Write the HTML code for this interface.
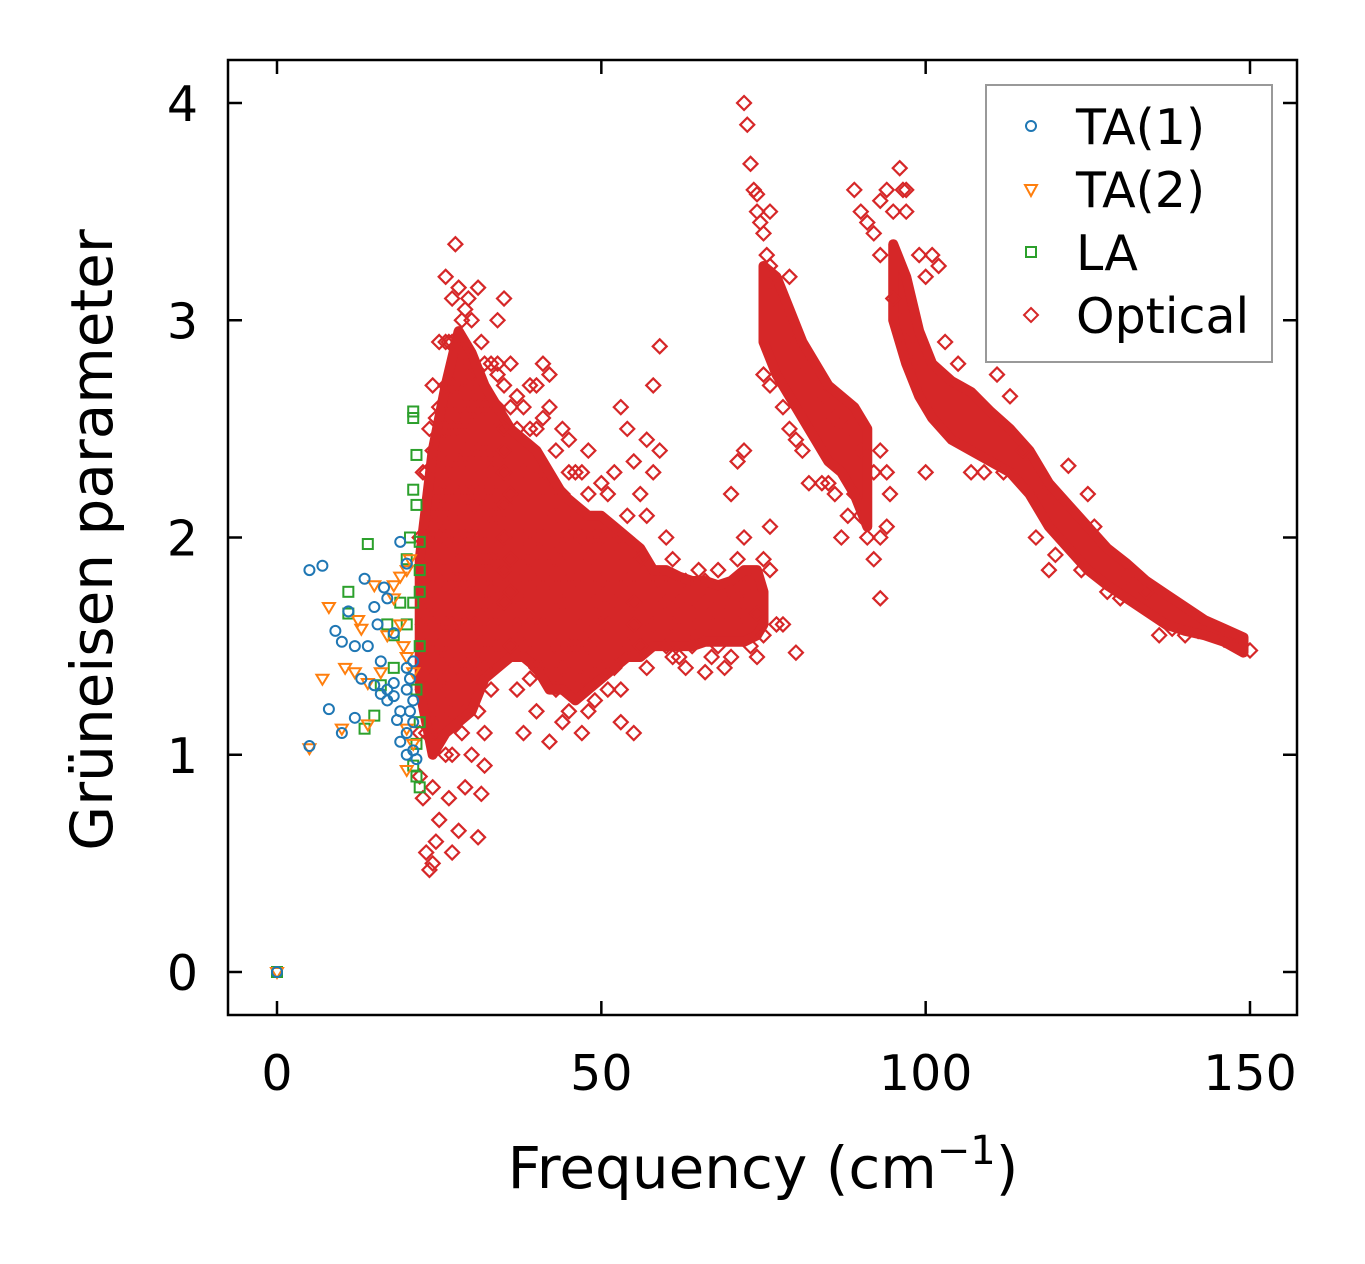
<!DOCTYPE html>
<html><head><meta charset="utf-8"><style>
html,body{margin:0;padding:0;background:#fff;}
svg{display:block;font-family:"DejaVu Sans","Liberation Sans",sans-serif;}
</style></head><body>
<svg id="chart" width="1365" height="1264" viewBox="0 0 1365 1264">
<rect x="0" y="0" width="1365" height="1264" fill="#fff"/>
<g id="plot"></g>
<rect x="228" y="60" width="1069" height="955" fill="none" stroke="#000" stroke-width="2.5"/>
<g id="ticks"></g>
<text x="763" y="1188" font-size="58" text-anchor="middle">Frequency (cm<tspan dy="-24" font-size="40">−1</tspan><tspan dy="24">)</tspan></text>
<text transform="translate(112,540) rotate(-90)" font-size="58" text-anchor="middle">Grüneisen parameter</text>
<g>
<rect x="986" y="85" width="286" height="277" fill="#fff" fill-opacity="0.8" stroke="#999" stroke-width="2"/>
<g><circle cx="1031" cy="126" r="5" fill="none" stroke="#1f77b4" stroke-width="2"/><text x="1076" y="144" font-size="49">TA(1)</text></g>
<g><path d="M1025,185 L1037,185 L1031,196 Z" fill="none" stroke="#ff7f0e" stroke-width="2"/><text x="1076" y="207" font-size="49">TA(2)</text></g>
<g><rect x="1026" y="247" width="10" height="10" fill="none" stroke="#2ca02c" stroke-width="2"/><text x="1076" y="270" font-size="49">LA</text></g>
<g><path d="M1031,308 L1038,315 L1031,322 L1024,315 Z" fill="none" stroke="#d62728" stroke-width="2"/><text x="1076" y="333" font-size="49">Optical</text></g>
</g>
</svg>
<script>
const xTicks=[0,50,100,150];
const yTicks=[0,1,2,3,4];
// dense optical regions (envelopes of heavily overlapping markers)
const coreFreq=[22,24,26,28,30,32,34,36,38,40,42,44,46,48,50,52,54,56,58,60,62,64,66,68,70,72,74,75];
const coreLow=[1.3,1.0,1.1,1.15,1.2,1.35,1.4,1.45,1.45,1.4,1.3,1.3,1.25,1.3,1.35,1.4,1.45,1.45,1.5,1.5,1.5,1.5,1.52,1.52,1.52,1.52,1.55,1.6];
const coreHigh=[1.9,2.4,2.7,2.95,2.85,2.7,2.6,2.5,2.45,2.4,2.3,2.2,2.15,2.1,2.1,2.05,2.0,1.95,1.85,1.85,1.82,1.8,1.8,1.78,1.8,1.85,1.85,1.75];
const branchDFreq=[75,77,79,81,83,85,87,89,91];
const branchDLow=[2.9,2.75,2.65,2.55,2.45,2.35,2.3,2.2,2.05];
const branchDHigh=[3.25,3.2,3.05,2.9,2.8,2.7,2.65,2.6,2.5];
const branchEFreq=[95,97,99,101,104,107,110,113,116,119,122,125,128,131,134,137,140,143,146,149];
const branchELow=[3.0,2.8,2.65,2.55,2.45,2.4,2.35,2.3,2.2,2.05,1.95,1.85,1.78,1.72,1.66,1.6,1.57,1.55,1.52,1.47];
const branchEHigh=[3.35,3.2,2.95,2.8,2.72,2.67,2.58,2.5,2.4,2.25,2.15,2.05,1.95,1.88,1.8,1.74,1.68,1.62,1.58,1.54];
const ta1Points=[[0,0],[5,1.85],[5,1.04],[7,1.87],[8,1.21],[9,1.57],[10,1.52],[10,1.1],[11,1.66],[12,1.5],[12,1.17],[13,1.35],[13.5,1.81],[14,1.5],[15,1.32],[15,1.68],[15.5,1.6],[16,1.43],[16,1.28],[16.5,1.77],[17,1.25],[17,1.72],[18,1.56],[18,1.33],[18.5,1.16],[19,1.98],[19,1.2],[19,1.06],[20,1.4],[20,1.3],[20,1.1],[20,1.0],[20.5,1.35],[21,1.43],[21,1.25],[21,1.02],[21.5,0.98],[20,1.88],[18,1.27],[17,1.3],[20.5,1.2],[21,1.15]];
const ta2Points=[[0,0],[5,1.03],[7,1.35],[8,1.68],[10,1.12],[10.5,1.4],[12,1.38],[12.5,1.62],[13,1.58],[14,1.33],[14,1.14],[15,1.78],[16,1.38],[17,1.55],[18,1.78],[18,1.72],[19,1.6],[19,1.82],[19.5,1.5],[20,1.45],[20,1.85],[20.5,1.9],[20,1.12],[21,1.38],[21,1.05],[20,0.93]];
const laPoints=[[0,0],[11,1.75],[11,1.65],[13.5,1.12],[14,1.97],[15,1.18],[17,1.6],[18,1.55],[19,1.7],[20,1.9],[20.5,2.0],[21,2.58],[21,2.55],[21.5,2.38],[21,2.22],[21.5,2.15],[22,1.98],[22,1.85],[22,1.75],[22,1.5],[21.5,1.3],[22,1.15],[21.5,1.05],[21,0.95],[21.5,0.9],[22,0.85],[21,1.7],[20,1.6],[18,1.4],[16,1.32]];
const opticalA=[[22,0.9],[22.5,0.8],[23,0.55],[23.5,0.47],[24,0.5],[24.5,0.6],[25,0.7],[22,1.1],[22.5,1.3],[23,1.5],[23.5,1.7],[24,1.9],[24.5,2.1],[25,2.3],[25.5,2.5],[26,2.7],[26.5,2.9],[27,3.1],[27.5,3.35],[28,3.15],[28.5,3.0],[29,2.85],[29.5,3.1],[30,3.0],[30.5,2.7],[31,3.15],[26,3.2],[25,2.9],[24,2.4],[23,2.0],[25,1.2],[26,1.0],[26.5,0.8],[27,0.55],[28,0.65],[29,0.85],[30,1.0],[31,0.62],[31.5,0.82],[32,1.1],[27,1.2],[28,1.4],[29,1.2],[30,1.3],[31,1.5],[32,1.7],[33,1.9],[34,2.1],[28,1.8],[29,2.0],[30,2.2],[31,2.4],[32,2.6],[33,2.8],[34,3.0],[35,3.1],[26,1.6],[27,1.8],[28,2.2],[29,2.4],[30,2.6],[27,2.5],[28,2.7],[26,2.2],[25,2.0],[24,1.6],[23,1.3],[24,1.1],[25,1.5],[26,1.9],[27,2.1],[28,2.5],[29,2.7],[30,1.8],[31,2.0],[32,2.2],[33,2.4],[34,2.6],[35,2.5],[31,1.2],[32,1.4],[33,1.6],[34,1.8],[35,2.0],[32,0.95],[33,1.3],[34,1.5],[35,1.7],[29,1.6],[30,1.45],[33,2.1],[33,2.3],[35,2.3],[27,2.9],[28,2.9],[29,3.05],[26,2.5],[25,2.6],[24,2.7],[23,1.8],[22,2.0],[23,2.3],[22.5,1.6],[23,1.1],[24,0.85],[24,1.35],[24.5,2.55],[25,1.8],[25.5,1.35],[25.5,2.1],[26,1.3],[26,2.0],[26.5,2.35],[26.5,1.45],[27,1.6],[27,2.3],[27,1.0],[27.5,2.7],[27.5,1.95],[28,1.6],[28,2.0],[28,2.35],[28.5,2.6],[28.5,1.1],[29,1.8],[29,2.2],[29,2.55],[29.5,1.4],[29.5,2.3],[30,2.0],[30,2.4],[30,2.8],[30.5,1.6],[30.5,2.15],[31,1.8],[31,2.2],[31,2.6],[31.5,1.35],[31.5,2.9],[32,1.9],[32,2.4],[32,2.8],[32.5,1.55],[32.5,2.1],[33,1.75],[33,2.55],[33.5,2.2],[34,1.65],[34,1.95],[34,2.35],[34,2.75],[35,1.85],[35,2.15],[35,2.7],[26,2.9],[27,2.7],[25,2.2],[24,2.05],[23.5,2.5],[22.5,2.3]];
const opticalB=[[36,1.9],[37,2.1],[38,2.3],[39,2.5],[40,2.7],[41,2.8],[42,2.6],[43,2.4],[44,2.2],[45,2.0],[36,1.5],[37,1.3],[38,1.1],[39,1.6],[40,1.8],[41,2.0],[42,2.2],[43,1.9],[44,1.7],[45,1.5],[46,1.3],[47,1.1],[48,1.2],[42,1.06],[43,1.3],[44,1.4],[46,1.8],[47,2.0],[48,2.2],[49,2.0],[50,1.8],[51,1.6],[52,1.4],[53,1.3],[54,1.5],[55,1.7],[56,1.9],[57,2.1],[58,2.3],[59,2.4],[58,2.7],[59,2.88],[53,2.6],[54,2.5],[52,2.3],[51,2.2],[50,2.0],[49,1.7],[48,1.5],[47,1.6],[46,1.5],[45,1.8],[44,1.95],[43,2.1],[41,1.6],[40,1.4],[39,1.9],[38,1.7],[37,1.8],[36,2.2],[35,2.4],[36,2.6],[37,2.5],[38,2.0],[39,2.2],[40,2.0],[41,2.3],[42,1.8],[46,2.1],[47,2.3],[48,2.4],[45,2.3],[44,2.5],[52,1.9],[53,2.0],[54,1.8],[55,1.6],[56,1.5],[57,1.4],[58,1.6],[59,1.8],[60,1.7],[51,1.3],[50,1.4],[49,1.25],[47,1.35],[45,1.2],[48,1.9],[50,1.6],[52,1.7],[54,2.1],[56,2.2],[40,1.2],[39,1.35],[38,1.5],[37,1.6],[36,1.75],[34,2.8],[36,2.8],[38,2.6],[40,2.5],[55,1.1],[53,1.15],[42,2.75],[41,2.55],[39,2.7],[37,2.65],[45,2.45],[50,2.25],[55,2.35],[57,2.45],[46,2.3],[43,1.5],[41,1.4],[44,1.15]];
const opticalC=[[60,1.5],[61,1.6],[62,1.7],[63,1.8],[64,1.65],[65,1.55],[66,1.7],[67,1.6],[68,1.5],[69,1.65],[70,1.75],[71,1.6],[72,1.7],[73,1.8],[74,1.65],[75,1.55],[61,1.45],[63,1.4],[65,1.85],[67,1.45],[69,1.4],[71,1.9],[72,2.0],[73,1.5],[75,1.9],[76,1.85],[60,2.0],[61,1.9],[71,2.35],[72,2.4],[70,2.2],[76,2.05],[77,1.6],[78,1.6],[80,1.47],[66,1.38],[74,1.45],[62,1.45],[64,1.5],[66,1.8],[68,1.85],[70,1.45]];
const opticalD=[[72,4.0],[72.5,3.9],[73,3.72],[73.5,3.6],[74,3.5],[74.5,3.45],[75,3.4],[75.5,3.3],[76,3.25],[76.5,3.2],[77,3.15],[79,3.2],[80,2.9],[82,2.78],[84,2.65],[86,2.55],[88,2.5],[90,2.4],[92,2.3],[88,2.1],[87,2.0],[89,2.2],[90,2.1],[91,2.0],[92,1.9],[93,1.72],[93,2.0],[94,2.05],[94.5,2.2],[93,2.4],[94,2.3],[75,2.75],[76,2.7],[78,2.6],[79,2.5],[80,2.45],[81,2.4],[82,2.25],[85,2.25],[74,3.58],[76,3.5],[89,3.6],[90,3.5],[91,3.45],[92,3.4],[93,3.3],[86,2.2],[84,2.25]];
const opticalE=[[96,3.7],[96.5,3.6],[97,3.5],[95,3.5],[97,3.6],[94,3.6],[93,3.55],[99,3.3],[100,3.2],[101,3.3],[102,3.25],[100,2.3],[103,2.9],[105,2.8],[111,2.75],[113,2.65],[122,2.33],[125,2.2],[117,2.0],[119,1.85],[120,1.92],[136,1.55],[128,1.75],[124,1.85],[130,1.72],[138,1.58],[140,1.55],[150,1.48],[148,1.5],[146,1.53],[142,1.57],[95,3.1],[96,3.0],[97,2.9],[98,2.8],[107,2.3],[109,2.3],[112,2.3],[115,2.4],[118,2.2],[121,2.15],[126,2.05],[131,1.82],[134,1.75]];
const opticalPoints=opticalA.concat(opticalB,opticalC,opticalD,opticalE);

const NS='http://www.w3.org/2000/svg';
const X0=228,X1=1297,Y0=60,Y1=1015;
function xScale(v){return 277+v*(1250-277)/150;}
function yScale(v){return 972-v*(972-103)/4;}
const plot=document.getElementById('plot');
const ticks=document.getElementById('ticks');
function mk(tag,attrs,parent){const e=document.createElementNS(NS,tag);for(const k in attrs)e.setAttribute(k,attrs[k]);parent.appendChild(e);return e;}

xTicks.forEach(t=>{
  const x=xScale(t);
  const a=mk('line',{x1:x,x2:x,y1:Y1,y2:Y1-14,stroke:'#000','stroke-width':2.5},ticks);
  
  
  const b=mk('line',{x1:x,x2:x,y1:Y0,y2:Y0+14,stroke:'#000','stroke-width':2.5},ticks);
  
  
  const l=mk('text',{x:x,y:1090,'font-size':49,'text-anchor':'middle'},ticks);
  l.textContent=String(t);
  
  
});
yTicks.forEach(t=>{
  const y=yScale(t);
  const a=mk('line',{x1:X0,x2:X0+14,y1:y,y2:y,stroke:'#000','stroke-width':2.5},ticks);
  
  
  const b=mk('line',{x1:X1,x2:X1-14,y1:y,y2:y,stroke:'#000','stroke-width':2.5},ticks);
  
  
  const l=mk('text',{x:198,y:y+18,'font-size':49,'text-anchor':'end'},ticks);
  l.textContent=String(t);
  
  
});

function band(fr,lo,hi,name){
  let d='';
  fr.forEach((f,i)=>{d+=(i?'L':'M')+xScale(f)+','+yScale(hi[i]);});
  for(let i=fr.length-1;i>=0;i--){d+='L'+xScale(fr[i])+','+yScale(lo[i]);}
  const p=mk('path',{d:d+'Z',fill:'#d62728',stroke:'#d62728','stroke-width':10,'stroke-linejoin':'round'},plot);
  
  
}
band(coreFreq,coreLow,coreHigh,'optical-dense-core');
band(branchDFreq,branchDLow,branchDHigh,'optical-dense-branch-1');
band(branchEFreq,branchELow,branchEHigh,'optical-dense-branch-2');

const gOpt=mk('g',{fill:'none',stroke:'#d62728','stroke-width':2.2},plot);


opticalPoints.forEach(p=>{
  const x=xScale(p[0]),y=yScale(p[1]);
  const m=mk('path',{d:`M${x},${y-7}L${x+7},${y}L${x},${y+7}L${x-7},${y}Z`},gOpt);
  
  
});
const gLA=mk('g',{fill:'none',stroke:'#2ca02c','stroke-width':2},plot);


laPoints.forEach(p=>{
  const x=xScale(p[0]),y=yScale(p[1]);
  const m=mk('rect',{x:x-5,y:y-5,width:10,height:10},gLA);
  
  
});
const gT2=mk('g',{fill:'none',stroke:'#ff7f0e','stroke-width':2},plot);


ta2Points.forEach(p=>{
  const x=xScale(p[0]),y=yScale(p[1]);
  const m=mk('path',{d:`M${x-6},${y-4}L${x+6},${y-4}L${x},${y+6}Z`},gT2);
  
  
});
const gT1=mk('g',{fill:'none',stroke:'#1f77b4','stroke-width':2},plot);


ta1Points.forEach(p=>{
  const m=mk('circle',{cx:xScale(p[0]),cy:yScale(p[1]),r:5},gT1);
  
  
});
</script>
</body></html>
